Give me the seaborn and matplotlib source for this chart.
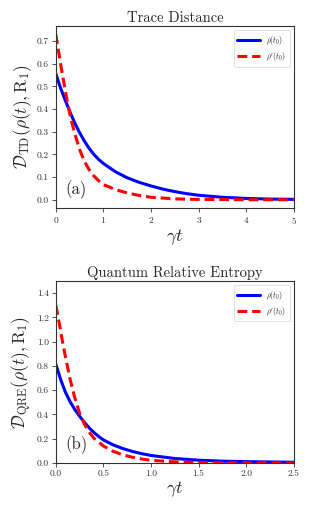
import numpy as np
import pandas as pd
import matplotlib
matplotlib.use("Agg")
import matplotlib.pyplot as plt
import seaborn as sns

# ---- data ----
t_td = [0.0, 0.1, 0.2, 0.3, 0.4, 0.5, 0.6, 0.7, 0.8, 0.9, 1.0, 1.25, 1.5, 1.75, 2.0, 2.25, 2.5, 2.75, 3.0, 3.5, 4.0, 4.5, 5.0]
td_rho = [0.556, 0.493, 0.438, 0.386, 0.338, 0.296, 0.259, 0.227, 0.2, 0.178, 0.16, 0.124, 0.097, 0.077, 0.061, 0.047, 0.036, 0.027, 0.020, 0.011, 0.006, 0.003, 0.002]
t_td_p = [0.0, 0.05, 0.1, 0.15, 0.2, 0.25, 0.3, 0.4, 0.5, 0.6, 0.7, 0.8, 0.9, 1.0, 1.25, 1.5, 1.75, 2.0, 2.5, 3.0, 4.0, 5.0]
td_rhop = [0.73, 0.665, 0.6, 0.54, 0.48, 0.425, 0.372, 0.29, 0.222, 0.17, 0.133, 0.105, 0.084, 0.067, 0.045, 0.03, 0.019, 0.011, 0.004, 0.0015, 0.0003, 0.0]

t_qre = [0.0, 0.05, 0.1, 0.15, 0.2, 0.25, 0.3, 0.35, 0.4, 0.45, 0.5, 0.6, 0.7, 0.8, 0.9, 1.0, 1.25, 1.5, 1.75, 2.0, 2.5]
qre_rho = [0.815, 0.69, 0.585, 0.505, 0.44, 0.385, 0.335, 0.29, 0.252, 0.218, 0.19, 0.15, 0.12, 0.096, 0.077, 0.062, 0.037, 0.023, 0.015, 0.011, 0.006]
t_qre_p = [0.0, 0.025, 0.05, 0.075, 0.1, 0.15, 0.2, 0.25, 0.3, 0.35, 0.4, 0.5, 0.6, 0.7, 0.8, 0.9, 1.0, 1.25, 1.5, 2.0, 2.5]
qre_rhop = [1.30, 1.20, 1.09, 0.98, 0.88, 0.69, 0.535, 0.41, 0.32, 0.255, 0.205, 0.14, 0.097, 0.068, 0.048, 0.033, 0.022, 0.009, 0.004, 0.001, 0.0]

labels = [r'$\rho(t_0)$', r"$\rho'(t_0)$"]
titles = ["Trace Distance", "Quantum Relative Entropy"]
ylabels = [r'$\mathcal{D}_{\mathrm{TD}}(\rho(t),\mathrm{R}_1)$', r'$\mathcal{D}_{\mathrm{QRE}}(\rho(t),\mathrm{R}_1)$']
panel = ["(a)", "(b)"]

sns.set_style("ticks")
plt.rcParams['font.family'] = 'serif'
plt.rcParams['font.serif'] = ['cmr10', 'DejaVu Serif']
plt.rcParams['mathtext.fontset'] = 'cm'
plt.rcParams['axes.formatter.use_mathtext'] = True
plt.rcParams['axes.unicode_minus'] = False

fig = plt.figure(figsize=(3.1, 5.15), dpi=100)
ax1 = fig.add_axes([0.18, 0.596, 0.768, 0.3535])
ax2 = fig.add_axes([0.18, 0.101, 0.768, 0.3535])

def draw(ax, t1, y1, t2, y2, xlim, ylim, xticks, yticks, title, ylabel, plab):
    d1 = pd.DataFrame({"t": t1, "v": y1})
    d2 = pd.DataFrame({"t": t2, "v": y2})
    sns.lineplot(data=d1, x="t", y="v", ax=ax, color="blue", lw=2.2, label=labels[0])
    sns.lineplot(data=d2, x="t", y="v", ax=ax, color="red", lw=2.2, ls=(0, (3.2, 1.6)), label=labels[1])
    ax.set_xlim(*xlim)
    ax.set_ylim(*ylim)
    ax.set_xticks(xticks)
    ax.set_yticks(yticks)
    ax.tick_params(labelsize=6.8, length=3, width=0.6, colors="#333333", pad=2)
    for s in ax.spines.values():
        s.set_visible(True)
        s.set_linewidth(0.8)
        s.set_color("#333333")
    ax.set_title(title, fontsize=10.5, pad=3)
    ax.set_ylabel(ylabel, fontsize=12.5, labelpad=2)
    ax.set_xlabel(r'$\gamma t$', fontsize=13, labelpad=1)
    leg = ax.legend(loc="upper right", fontsize=5.5, handlelength=3.0, frameon=True,
                    borderpad=0.5, labelspacing=0.4, handletextpad=0.8)
    leg.get_frame().set_linewidth(0.5)
    ax.text(0.04, 0.05, plab, transform=ax.transAxes, fontsize=12, ha="left", va="bottom")

draw(ax1, t_td, td_rho, t_td_p, td_rhop, (0, 5), (-0.0365, 0.7665),
     [0, 1, 2, 3, 4, 5], [0.0, 0.1, 0.2, 0.3, 0.4, 0.5, 0.6, 0.7], titles[0], ylabels[0], panel[0])
ax1.set_yticklabels(["0.0", "0.1", "0.2", "0.3", "0.4", "0.5", "0.6", "0.7"])
draw(ax2, t_qre, qre_rho, t_qre_p, qre_rhop, (0, 2.5), (0, 1.5),
     [0, 0.5, 1.0, 1.5, 2.0, 2.5], [0.0, 0.2, 0.4, 0.6, 0.8, 1.0, 1.2, 1.4], titles[1], ylabels[1], panel[1])
ax2.set_xticklabels(["0.0", "0.5", "1.0", "1.5", "2.0", "2.5"])
ax2.set_yticklabels(["0.0", "0.2", "0.4", "0.6", "0.8", "1.0", "1.2", "1.4"])

fig.savefig("out.png", dpi=100)
